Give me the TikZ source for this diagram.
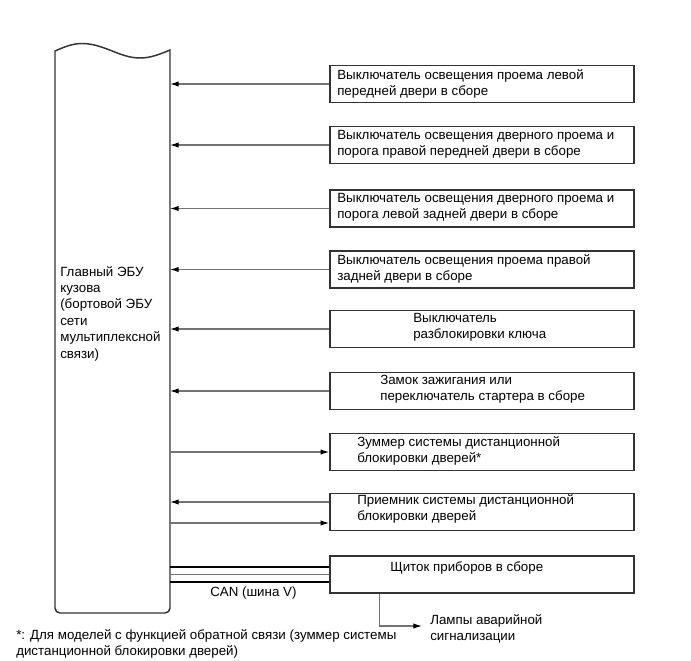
\documentclass[tikz,border=0pt]{standalone}
\usepackage{fontspec}
\setmainfont{Liberation Sans}
\usetikzlibrary{arrows.meta, calc}
\tikzstyle{box} = [draw=black!80, line width=1.1pt, minimum width=228pt, minimum height=28pt, inner sep=0pt]
\tikzstyle{txt} = [anchor=north west, inner sep=0pt, align=left, font=\fontsize{10}{12.3}\selectfont]
\tikzstyle{wire} = [draw=black!55, line width=0.9pt]
\tikzstyle{arrow} = [wire, -{Latex[length=6.5pt,width=4pt,black]}]
\tikzstyle{can} = [draw=black, line width=2.2pt]

\begin{document}
\begin{tikzpicture}[x=0.75pt, y=-0.75pt]
            \useasboundingbox (0,0) rectangle (691,660);

            % Main body ECU (tall shape with wavy top)
            \draw[draw=black!80, line width=1.1pt] (55,51) sin (82,43.5) cos (111,50.5) sin (140,58) cos (170,50)
                -- (170,608) arc[start angle=0, end angle=90, radius=5]
                -- (60,613) arc[start angle=90, end angle=180, radius=5] -- cycle;
            \coordinate (ecu) at (170,0);
            \node[txt] (ecutxt) at (60,266) {Главный ЭБУ\\кузова\\(бортовой ЭБУ\\сети\\мультиплексной\\связи)};

            % Boxes on the right
            \node[box] (b1) at (482,84) {};
            \node[box] (b2) at (482,145) {};
            \node[box] (b3) at (482,208.5) {};
            \node[box] (b4) at (482,269.5) {};
            \node[box] (b5) at (482,329) {};
            \node[box] (b6) at (482,391) {};
            \node[box] (b7) at (482,452) {};
            \node[box] (b8) at (482,512) {};
            \node[box] (b9) at (482,574.5) {};

            % Texts in the boxes
            \node[txt] (t1) at (337,69) {Выключатель освещения проема левой\\передней двери в сборе};
            \node[txt] (t2) at (337,130) {Выключатель освещения дверного проема и\\порога правой передней двери в сборе};
            \node[txt] (t3) at (337,193) {Выключатель освещения дверного проема и\\порога левой задней двери в сборе};
            \node[txt] (t4) at (337,254) {Выключатель освещения проема правой\\задней двери в сборе};
            \node[txt] (t5) at (413,313) {Выключатель\\разблокировки ключа};
            \node[txt] (t6) at (380,375) {Замок зажигания или\\переключатель стартера в сборе};
            \node[txt] (t7) at (357,436) {Зуммер системы дистанционной\\блокировки дверей*};
            \node[txt] (t8) at (357,494) {Приемник системы дистанционной\\блокировки дверей};
            \node[txt] (t9) at (390,561) {Щиток приборов в сборе};
            \node[txt] (t10) at (430,614) {Лампы аварийной\\сигнализации};
            \node[txt] (can) at (210,587) {CAN (шина V)};
            \node[txt] (note) at (16,629) {*: Для моделей с функцией обратной связи (зуммер системы\\дистанционной блокировки дверей)};

            % Draw arrows between the ECU and the boxes
            \draw[arrow] (b1.west) -- (b1.west -| ecu);
            \draw[arrow] (b2.west) -- (b2.west -| ecu);
            \draw[arrow] (b3.west) -- (b3.west -| ecu);
            \draw[arrow] (b4.west) -- (b4.west -| ecu);
            \draw[arrow] (b5.west) -- (b5.west -| ecu);
            \draw[arrow] (b6.west) -- (b6.west -| ecu);
            \draw[arrow] (b7.west -| ecu) -- (b7.west);
            \draw[arrow] ($(b8.west)+(0,-10)$) -- ($(b8.west -| ecu)+(0,-10)$);
            \draw[arrow] ($(b8.west -| ecu)+(0,11)$) -- ($(b8.west)+(0,11)$);

            % CAN bus
            \draw[can] ($(b9.west -| ecu)+(0,-7.5)$) -- ($(b9.west)+(0,-7.5)$);
            \draw[wire] (b9.west -| ecu) -- (b9.west);
            \draw[can] ($(b9.west -| ecu)+(0,7.5)$) -- ($(b9.west)+(0,7.5)$);

            % Hazard lamps
            \coordinate (lamp) at (422,626);
            \draw[arrow] ($(b9.south west)+(50,0)$) |- (lamp);
        \end{tikzpicture}
\end{document}
